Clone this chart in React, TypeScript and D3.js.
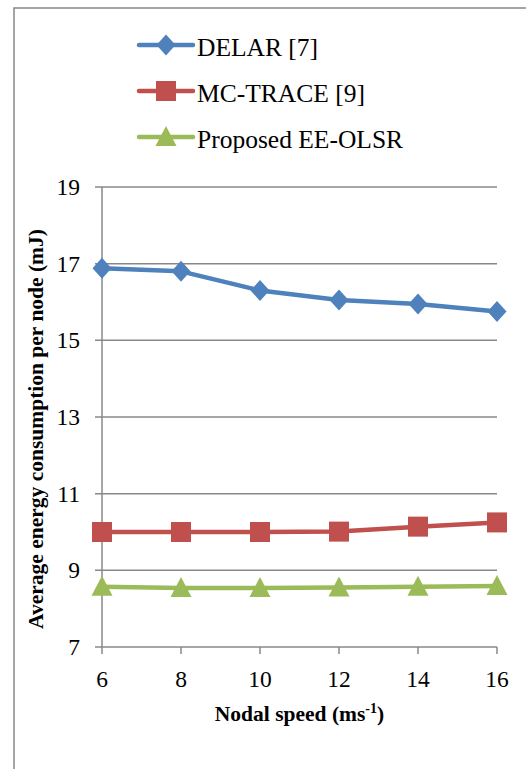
import { useMemo } from "react";
import * as d3 from "d3";

const WIDTH = 526;
const HEIGHT = 769;
const MARGIN = { top: 187, right: 29, bottom: 122, left: 102 };

const speeds = [6, 8, 10, 12, 14, 16];
const delar = [16.88, 16.8, 16.3, 16.05, 15.95, 15.75];
const mcTrace = [10.0, 10.0, 10.0, 10.01, 10.14, 10.25];
const eeOlsr = [8.57, 8.54, 8.54, 8.55, 8.57, 8.59];
const yTicks = [7, 9, 11, 13, 15, 17, 19];

const series = [
  { name: "DELAR [7]", values: delar, color: "#4F81BD", marker: "diamond" },
  { name: "MC-TRACE [9]", values: mcTrace, color: "#C0504D", marker: "square" },
  { name: "Proposed EE-OLSR", values: eeOlsr, color: "#9BBB59", marker: "triangle" },
];

const GRID = "#888888";
const FONT = "'Liberation Serif', 'Times New Roman', serif";

const Marker = ({ type, x, y, color }: { type: string; x: number; y: number; color: string }) => {
  if (type === "diamond") {
    return <path d={`M${x},${y - 10.5}L${x + 9.5},${y}L${x},${y + 10.5}L${x - 9.5},${y}Z`} fill={color} />;
  }
  if (type === "square") {
    return <rect x={x - 10} y={y - 10} width={20} height={20} fill={color} />;
  }
  return <path d={`M${x},${y - 11}L${x + 10.5},${y + 9}L${x - 10.5},${y + 9}Z`} fill={color} />;
};

export default function App() {
  const boundsWidth = WIDTH - MARGIN.left - MARGIN.right;
  const boundsHeight = HEIGHT - MARGIN.top - MARGIN.bottom;

  const xScale = useMemo(() => d3.scaleLinear().domain([6, 16]).range([0, boundsWidth]), [boundsWidth]);
  const yScale = useMemo(() => d3.scaleLinear().domain([7, 19]).range([boundsHeight, 0]), [boundsHeight]);

  const line = d3
    .line<number>()
    .x((_, i) => xScale(speeds[i]))
    .y((d) => yScale(d));

  return (
    <svg
      width={WIDTH}
      height={HEIGHT}
      fontFamily={FONT}
      style={{ position: "absolute", left: 0, top: 0, background: "#fff" }}
    >
      {/* chart frame */}
      <rect x={14} y={8} width={WIDTH} height={HEIGHT} fill="none" stroke={GRID} strokeWidth={1.5} />

      {/* legend */}
      {series.map((s, i) => {
        const y = 45 + i * 46;
        return (
          <g key={s.name}>
            <line x1={139} x2={193} y1={y} y2={y} stroke={s.color} strokeWidth={4.5} strokeLinecap="round" />
            <Marker type={s.marker} x={166} y={y} color={s.color} />
            <text x={197} y={y + 11} fontSize={25.5} fill="#000">
              {s.name}
            </text>
          </g>
        );
      })}

      <g transform={`translate(${MARGIN.left},${MARGIN.top})`}>
        {yTicks.map((t) => (
          <g key={t}>
            <line x1={-7} x2={boundsWidth} y1={yScale(t)} y2={yScale(t)} stroke={GRID} strokeWidth={1.5} />
            <text x={-22} y={yScale(t) + 8} textAnchor="end" fontSize={23.5}>
              {t}
            </text>
          </g>
        ))}
        <line x1={0} x2={0} y1={0} y2={boundsHeight} stroke={GRID} strokeWidth={1.5} />
        {speeds.map((s) => (
          <g key={s}>
            <line x1={xScale(s)} x2={xScale(s)} y1={boundsHeight} y2={boundsHeight + 7} stroke={GRID} strokeWidth={1.5} />
            <text x={xScale(s)} y={boundsHeight + 40} textAnchor="middle" fontSize={23.5}>
              {s}
            </text>
          </g>
        ))}

        {series.map((s) => (
          <g key={s.name}>
            <path d={line(s.values) || ""} fill="none" stroke={s.color} strokeWidth={4.5} strokeLinejoin="round" />
            {s.values.map((v, i) => (
              <Marker key={i} type={s.marker} x={xScale(speeds[i])} y={yScale(v)} color={s.color} />
            ))}
          </g>
        ))}

        <text x={boundsWidth / 2} y={boundsHeight + 74} textAnchor="middle" fontSize={21.5} fontWeight="bold">
          Nodal speed (ms
          <tspan dy={-8} fontSize={14}>-1</tspan>
          <tspan dy={8}>)</tspan>
        </text>
        <text
          transform={`translate(${43 - MARGIN.left},${boundsHeight / 2 + 12}) rotate(-90)`}
          textAnchor="middle"
          fontSize={21.5}
          fontWeight="bold"
        >
          Average energy consumption per node (mJ)
        </text>
      </g>
    </svg>
  );
}
